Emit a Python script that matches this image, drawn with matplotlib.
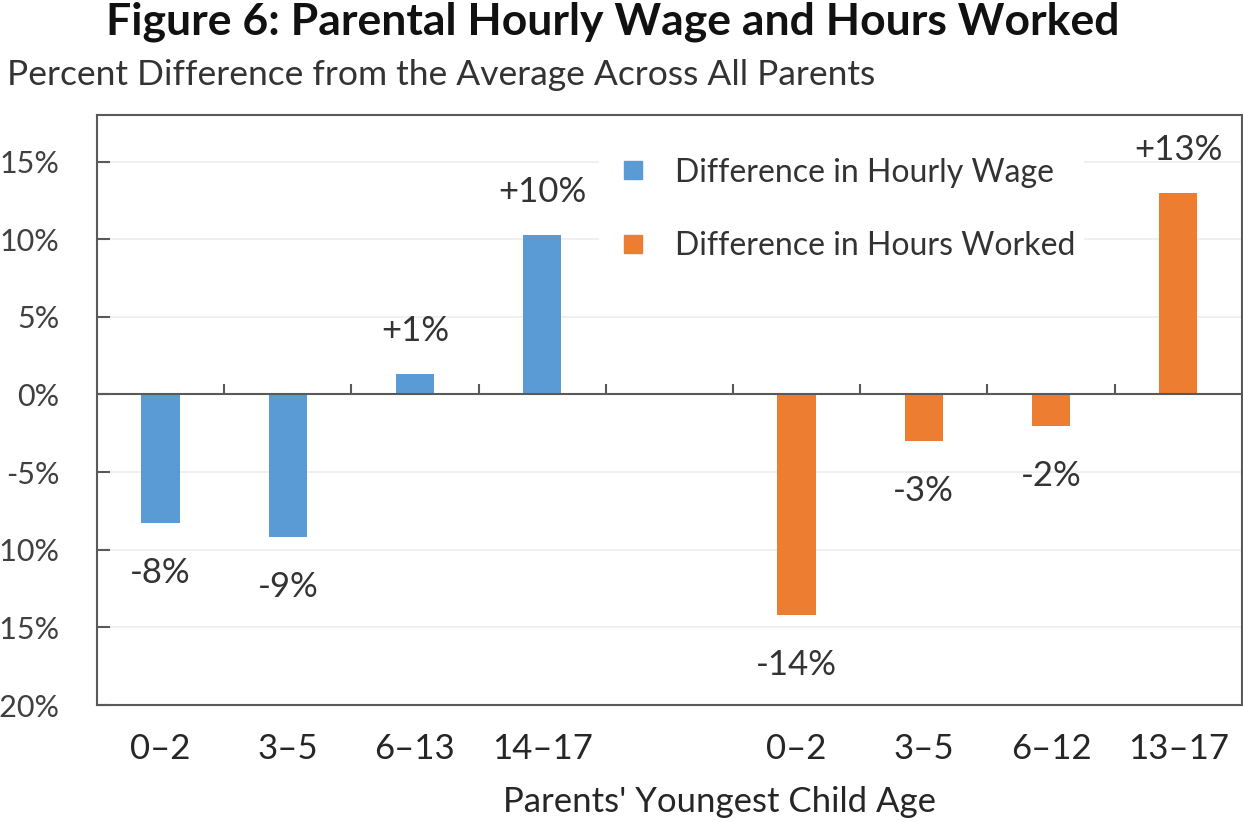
import matplotlib
matplotlib.use("Agg")
import matplotlib.pyplot as plt
from matplotlib.lines import Line2D
import numpy as np

plt.rcParams['font.family'] = ['Lato', 'DejaVu Sans']

# data (percent)
wage_labels = ['0–2', '3–5', '6–13', '14–17']
hours_labels = ['0–2', '3–5', '6–12', '13–17']
wage_diff = [-8.3, -9.2, 1.3, 10.3]
hours_diff = [-14.2, -3.0, -2.0, 13.0]
wage_text = ['-8%', '-9%', '+1%', '+10%']
hours_text = ['-14%', '-3%', '-2%', '+13%']

blue = '#5B9BD5'
orange = '#ED7D31'
spine_col = '#595959'

fig = plt.figure(figsize=(12.43, 8.22), dpi=100)
ax = fig.add_axes([0.078, 0.1423, 0.921, 0.7178])

x_wage = np.arange(len(wage_diff))
x_hours = np.arange(len(hours_diff)) + len(wage_diff) + 1
width = 0.30

ax.bar(x_wage, wage_diff, width, color=blue, zorder=3)
ax.bar(x_hours, hours_diff, width, color=orange, zorder=3)

# value labels
for xs, vals, txts in [(x_wage, wage_diff, wage_text), (x_hours, hours_diff, hours_text)]:
    for x, v, t in zip(xs, vals, txts):
        off = 31 if v > 0 else -36
        ax.annotate(t, (x, v), xytext=(0, off), textcoords='offset points',
                    ha='center', va='center', fontsize=25, color='#333333')

ax.set_xlim(-0.5, 8.5)
ax.set_ylim(-20, 18)

ax.set_yticks([15, 10, 5, 0, -5, -10, -15, -20])
ax.set_yticklabels(['%d%%' % t for t in [15, 10, 5, 0, -5, -10, -15, -20]])
ax.tick_params(axis='y', direction='in', length=9, width=1.5, color=spine_col,
               labelsize=22, labelcolor='#404040', pad=27)

ax.set_xticks(list(x_wage) + list(x_hours))
ax.set_xticklabels(wage_labels + hours_labels)
ax.tick_params(axis='x', length=0, labelsize=25, labelcolor='#262626', pad=20)

for g in [15, 10, 5, -5, -10, -15]:
    ax.axhline(g, color='#eeeeee', lw=1.2, zorder=0)
ax.axhline(0, color=spine_col, lw=1.5, zorder=4)

# small separators on the zero line
bounds = np.arange(0.5, 8, 1.0)
ax.vlines(bounds, 0, 0.7, color=spine_col, lw=1.5, zorder=4)

for s in ax.spines.values():
    s.set_color(spine_col)
    s.set_linewidth(1.5)

ax.set_xlabel("Parents' Youngest Child Age", fontsize=25, color='#262626')
ax.xaxis.set_label_coords(0.544, -0.137)

handles = [Line2D([], [], marker='s', ls='', color=blue, markersize=13),
           Line2D([], [], marker='s', ls='', color=orange, markersize=13)]
leg = ax.legend(handles, ['Difference in Hourly Wage', 'Difference in Hours Worked'],
                loc='upper left', bbox_to_anchor=(0.425, 0.971), fontsize=23,
                frameon=True, facecolor='white', edgecolor='none', framealpha=1,
                labelspacing=1.37, handlelength=1.5, handletextpad=0.55, borderpad=0.3)
for t in leg.get_texts():
    t.set_color('#333333')
leg.set_zorder(2)

fig.text(0.493, 0.973, 'Figure 6: Parental Hourly Wage and Hours Worked',
         ha='center', va='center', fontsize=32, fontweight='bold', color='#111111')
fig.text(0.006, 0.909, 'Percent Difference from the Average Across All Parents',
         ha='left', va='center', fontsize=25.5, color='#333333')

fig.savefig('out.png', dpi=100)
